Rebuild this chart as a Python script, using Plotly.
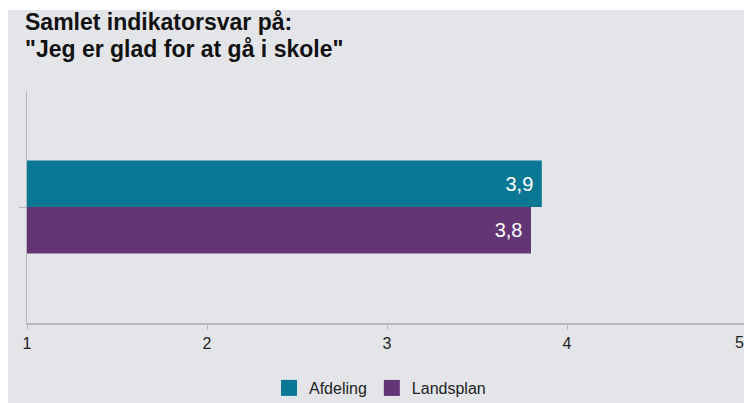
import plotly.graph_objects as go

category = ["Samlet"]
series_names = ["Afdeling", "Landsplan"]
series_values = [[3.86], [3.8]]
series_labels = [["3,9\u00a0"], ["3,8\u00a0"]]
colors = ["#0a7895", "#633574"]
x_ticks = [1, 2, 3, 4, 5]
title_lines = ["Samlet indikatorsvar på:", "\"Jeg er glad for at gå i skole\""]

# page body has an 8px margin, so the figure fills the rest of the 752x403 window
W, H = 744, 395
L, R, T, B = 19, 5, 83, 80
pw, ph = W - L - R, H - T - B
FONT = "Liberation Sans, Arial, Helvetica"


def px_x(p):
    return (p - L) / pw


def px_y(p):
    return (H - B - p) / ph


fig = go.Figure()
for name, vals, labs, c in zip(series_names, series_values, series_labels, colors):
    fig.add_trace(go.Bar(
        y=category, x=vals, orientation="h", name=name, showlegend=False,
        marker=dict(color=c, line=dict(width=0)),
        text=labs, textposition="inside", insidetextanchor="end",
        textfont=dict(color="white", size=20, family=FONT),
        hoverinfo="x+name",
    ))
for name, c in zip(series_names, colors):
    fig.add_trace(go.Scatter(
        x=[None], y=[None], mode="markers", name=name,
        marker=dict(symbol="square", size=16, color=c),
    ))

bg = "#e4e5e9"
annotations = []
for i, line in enumerate(title_lines):
    annotations.append(dict(
        text="<b>" + line + "</b>", showarrow=False,
        xref="paper", yref="paper", x=px_x(15), xanchor="left",
        y=px_y(14 + 27 * i), yanchor="middle",
        font=dict(size=23, color="#111111", family=FONT),
    ))
# last tick label nudged inside the visible window, as in the reference
annotations.append(dict(
    text=str(x_ticks[-1]), showarrow=False, xref="x", yref="paper",
    x=x_ticks[-1], xanchor="right", xshift=-1,
    y=px_y(334), yanchor="middle",
    font=dict(size=16, color="#222222", family=FONT),
))

fig.update_layout(
    width=W, height=H,
    margin=dict(l=L, r=R, t=T, b=B, autoexpand=False),
    paper_bgcolor=bg, plot_bgcolor=bg,
    barmode="group", bargap=0.6, bargroupgap=0,
    font=dict(family=FONT, color="#222222"),
    annotations=annotations,
    xaxis=dict(
        range=[1, 5], tickvals=x_ticks,
        ticktext=[str(t) for t in x_ticks[:-1]] + [""],
        showgrid=False, zeroline=False, showline=True, linecolor="#b5b8bd", linewidth=2,
        ticks="outside", ticklen=5, tickcolor="#b5b8bd", tickwidth=1,
        tickfont=dict(size=16, color="#222222"),
    ),
    yaxis=dict(
        showgrid=False, zeroline=False, showline=True, linecolor="#b5b8bd", linewidth=1,
        ticks="outside", ticklen=7, tickcolor="#b5b8bd", showticklabels=False,
        autorange="reversed",
    ),
    legend=dict(
        orientation="h", x=px_x(372), xanchor="center", y=px_y(380), yanchor="middle",
        font=dict(size=16, color="#222222"), bgcolor="rgba(0,0,0,0)", traceorder="normal",
        itemsizing="trace",
    ),
    shapes=[dict(type="rect", xref="paper", yref="paper", x0=px_x(-1), x1=px_x(W + 1),
                 y0=px_y(2), y1=px_y(-1), fillcolor="white", line=dict(width=0),
                 layer="above")],
    showlegend=True,
)

fig.write_html(
    "out.html",
    post_script="document.documentElement.style.overflow='hidden';"
                "document.body.style.overflow='hidden';",
)
